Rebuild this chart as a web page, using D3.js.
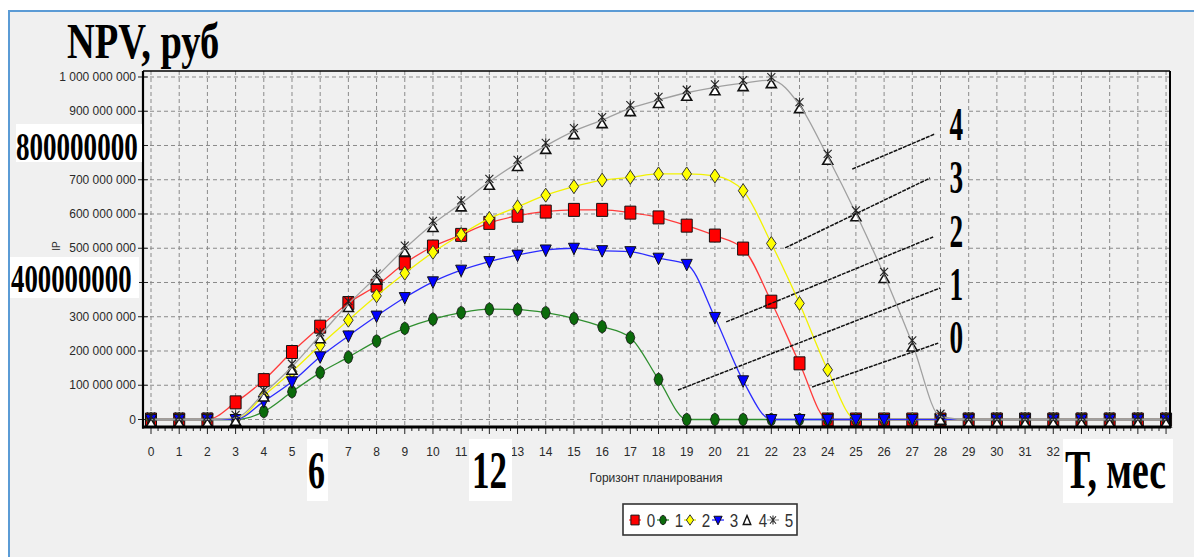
<!DOCTYPE html>
<html><head><meta charset="utf-8">
<script src="https://cdn.jsdelivr.net/npm/d3@7"></script>
<style>html,body{margin:0;padding:0;background:#fff;overflow:hidden}svg{display:block}</style>
</head><body>
<svg id="c" width="1194" height="557"></svg>
<script>
// ---------- DATA ----------
const months = [0,1,2,3,4,5,6,7,8,9,10,11,12,13,14,15,16,17,18,19,20,21,22,23,24,25,26,27,28,29,30,31,32,33,34,35,36];
// tick labels that remain visible (6, 12, 33-36 are pasted over in the reference)
const xTickLabels = [0,1,2,3,4,5,7,8,9,10,11,13,14,15,16,17,18,19,20,21,22,23,24,25,26,27,28,29,30,31,32];
const yTicks = [0,100000000,200000000,300000000,400000000,500000000,600000000,700000000,800000000,900000000,1000000000];
const yTickLabels = [0,100000000,200000000,300000000,500000000,600000000,700000000,900000000,1000000000];
const seriesNames = ["0","1","2","3","4","5"];
// NPV, million roubles
const npv0 = [0,0,0,50,115,197,271,340,391,456,505,539,574,595,607,612,612,604,590,566,537,499,344,164,0,0,0,0,0,0,0,0,0,0,0,0,0];
const npv1 = [0,0,0,0,23,81,137,182,229,266,293,312,322,321,312,295,271,239,117,0,0,0,0,0,0,0,0,0,0,0,0,0,0,0,0,0,0];
const npv2 = [0,0,0,0,70,140,217,290,361,427,488,540,587,621,655,680,699,707,717,717,711,668,514,339,145,0,0,0,0,0,0,0,0,0,0,0,0];
const npv3 = [0,0,0,0,53,110,183,244,302,356,402,436,461,480,495,500,493,490,471,453,298,113,0,0,0,0,0,0,0,0,0,0,0,0,0,0,0];
const npv4 = [0,0,0,5,76,154,246,337,417,499,571,631,694,749,799,842,874,909,933,954,970,982,991,918,767,602,422,222,8,0,0,0,0,0,0,0,0];
const npv5 = [0,0,0,5,76,154,246,337,417,499,571,631,694,749,799,842,874,909,933,954,970,982,991,918,767,602,422,222,8,0,0,0,0,0,0,0,0];
const curveLabels = ["4","3","2","1","0"];
const axisTitleX = "Горизонт планирования";
const chartTitle = "NPV, руб";
const unitT = "T, мес";

(function () {
const svg = d3.select("#c");
const W = 1194, H = 557;
const pL = 143, pR = 1170, pT = 71, pB = 427;
const x = d3.scaleLinear().domain([-0.284, 36.14]).range([pL, pR]);
const y = d3.scaleLinear().domain([-21.9e6, 1017.5e6]).range([pB, pT]);
const M = 1e6;

svg.append("rect").attr("width", W).attr("height", H).attr("fill", "#fff");
svg.append("rect").attr("x", 9).attr("y", 11).attr("width", W + 20).attr("height", H + 20)
  .attr("fill", "#f0f0f0").attr("stroke", "#5b9bd5").attr("stroke-width", 2);

const sans = "'Liberation Sans', Arial, sans-serif";
const serif = "'Liberation Serif', 'Times New Roman', serif";

// grid
const grid = svg.append("g").attr("stroke", "#8a8a8a").attr("stroke-width", 1).attr("stroke-dasharray", "4,3");
grid.selectAll("line.v").data(months).join("line").attr("class", "v")
  .attr("x1", d => x(d)).attr("x2", d => x(d)).attr("y1", pT).attr("y2", pB);
grid.selectAll("line.h").data(yTicks).join("line").attr("class", "h")
  .attr("x1", pL).attr("x2", pR).attr("y1", d => y(d)).attr("y2", d => y(d));

// y axis
const fmt = d3.formatLocale({thousands: " ", grouping: [3], decimal: ".", currency: ["", ""]}).format(",");
const yAxis = svg.append("g");
yAxis.selectAll("line").data(yTicks).join("line")
  .attr("x1", pL - 5).attr("x2", pL + 5).attr("y1", d => y(d)).attr("y2", d => y(d))
  .attr("stroke", "#222").attr("stroke-width", 1);
yAxis.selectAll("text").data(yTickLabels).join("text")
  .attr("x", pL - 7).attr("y", d => y(d)).attr("dy", "0.35em")
  .attr("text-anchor", "end").attr("font-family", sans).attr("font-size", 12).attr("fill", "#2a2a2a")
  .text(d => fmt(d));

// x axis
const minor = d3.range(0, 36.01, 0.25);
svg.append("g").attr("stroke", "#222").selectAll("line").data(minor).join("line")
  .attr("x1", d => x(d)).attr("x2", d => x(d)).attr("y1", pB)
  .attr("y2", d => Number.isInteger(d) ? pB + 7 : pB + 4).attr("stroke-width", 1);
svg.append("g").selectAll("text").data(xTickLabels).join("text")
  .attr("x", d => x(d)).attr("y", 452).attr("dy", "0.35em").attr("text-anchor", "middle")
  .attr("font-family", sans).attr("font-size", 12).attr("fill", "#2a2a2a")
  .text(d => String(d));
svg.append("text").attr("x", 656).attr("y", 478).attr("dy", "0.35em").attr("text-anchor", "middle")
  .attr("font-family", sans).attr("font-size", 12).attr("fill", "#2a2a2a").text(axisTitleX);
svg.append("text").attr("transform", "translate(60,246) rotate(-90)").attr("text-anchor", "middle")
  .attr("font-family", sans).attr("font-size", 10).attr("fill", "#333").text("IP");

// ---------- SERIES ----------
const seriesData = [npv0, npv1, npv2, npv3, npv4, npv5];
const lineColors = ["#ff3b3b", "#2f8f2f", "#f2f200", "#2b2bff", null, "#a0a0a0"];
const symbols = [
  {path: "M-5.5,-6.5H5.5V6.5H-5.5Z", fill: "#ff0000", stroke: "#111", sw: 1},
  {path: "M0,-6.5L3,-4.5L4.5,0L3,4.5L0,6.5L-3,4.5L-4.5,0L-3,-4.5Z", fill: "#0b6b0b", stroke: "#111", sw: 0.8},
  {path: "M0,-7L4.8,0L0,7L-4.8,0Z", fill: "#ffff00", stroke: "#333", sw: 1},
  {path: "M-5.5,-5L5.5,-5L0,6.5Z", fill: "#0000ff", stroke: "#111", sw: 1},
  {path: "M0,-1L5,7.5L-5,7.5Z", fill: "#fff", stroke: "#111", sw: 1.6},
  {path: "M-4,-7L4,1M4,-7L-4,1M0,-7.5V1.5", fill: "none", stroke: "#222", sw: 1.1}
];
const line = d3.line().x((d, i) => x(months[i])).y(d => y(d * M)).curve(d3.curveMonotoneX);
seriesData.forEach((data, s) => {
  const g = svg.append("g");
  if (lineColors[s]) {
    g.append("path").attr("d", line(data)).attr("fill", "none")
      .attr("stroke", lineColors[s]).attr("stroke-width", 1.3);
  }
  g.selectAll("path.m").data(data).join("path").attr("class", "m")
    .attr("transform", (d, i) => `translate(${x(months[i])},${y(d * M)})`)
    .attr("d", symbols[s].path).attr("fill", symbols[s].fill)
    .attr("stroke", symbols[s].stroke).attr("stroke-width", symbols[s].sw);
});

// frame
const fr = svg.append("g").attr("stroke", "#000");
fr.append("line").attr("x1", pL).attr("x2", pR).attr("y1", pT).attr("y2", pT).attr("stroke-width", 1.6);
fr.append("line").attr("x1", pR).attr("x2", pR).attr("y1", pT).attr("y2", pB).attr("stroke-width", 2);
fr.append("line").attr("x1", pL).attr("x2", pL).attr("y1", pT).attr("y2", pB + 1.5).attr("stroke-width", 2.2);
fr.append("line").attr("x1", pL - 1).attr("x2", pR + 1).attr("y1", pB).attr("y2", pB).attr("stroke-width", 3);

// ---------- ANNOTATIONS ----------
const leaders = [
  [[24.87, 731], [27.81, 834]],
  [[22.49, 501], [27.63, 705]],
  [[20.40, 285], [27.74, 533]],
  [[18.69, 86], [27.99, 384]],
  [[23.45, 95], [27.92, 223]]
];
const labelVals = [816, 661, 504, 349, 194];
leaders.forEach(l => {
  svg.append("line").attr("x1", x(l[0][0])).attr("y1", y(l[0][1] * M))
    .attr("x2", x(l[1][0])).attr("y2", y(l[1][1] * M))
    .attr("stroke", "#111").attr("stroke-width", 1.5).attr("stroke-dasharray", "4,1");
});
curveLabels.forEach((t, i) => {
  const cx = x(28.56), by = y(labelVals[i] * M);
  svg.append("rect").attr("x", cx - 10).attr("y", by - 34).attr("width", 20).attr("height", 38).attr("fill", "#f0f0f0");
  svg.append("text").attr("transform", `translate(${cx},${by}) scale(0.58,1)`).attr("text-anchor", "middle")
    .attr("font-family", serif).attr("font-weight", "bold").attr("font-size", 47).attr("fill", "#000").text(t);
});

function bigText(txt, bx, by, bw, bh, tx, tb, sx, fs, box) {
  if (box) svg.append("rect").attr("x", bx).attr("y", by).attr("width", bw).attr("height", bh).attr("fill", "#fff");
  svg.append("text").attr("transform", `translate(${tx},${tb}) scale(${sx},1)`)
    .attr("font-family", serif).attr("font-weight", "bold").attr("font-size", fs).attr("fill", "#000").text(txt);
}
bigText(chartTitle, 0, 0, 0, 0, 67, 58, 0.77, 50, false);
bigText("800000000", 16, 124, 126, 38, 16, 160, 0.66, 41, true);
bigText("400000000", 10, 257, 129, 41, 11, 292, 0.67, 40, true);
bigText("6", 307, 439, 21, 62, 308, 488, 0.64, 53, true);
bigText("12", 469, 439, 43, 62, 472, 488, 0.66, 53, true);
bigText(unitT, 1063, 439, 110, 64, 1065, 488, 0.7, 54, true);

// ---------- LEGEND ----------
const lg = svg.append("g");
lg.append("rect").attr("x", 623).attr("y", 504).attr("width", 174).attr("height", 31)
  .attr("fill", "#fff").attr("stroke", "#333").attr("stroke-width", 1.6);
const legX = [635, 663, 690, 718, 747, 773];
seriesNames.forEach((n, s) => {
  const cx = legX[s], cy = 520;
  if (lineColors[s]) lg.append("line").attr("x1", cx - 6).attr("x2", cx + 6).attr("y1", cy).attr("y2", cy)
    .attr("stroke", lineColors[s] === "#f2f200" ? "#e0e000" : lineColors[s]).attr("stroke-width", 1.3);
  lg.append("path").attr("transform", `translate(${cx},${cy}) scale(0.75)`)
    .attr("d", s === 4 ? "M0,-6L5,6L-5,6Z" : (s === 5 ? "M-4,-5L4,5M4,-5L-4,5M0,-6V6" : symbols[s].path))
    .attr("fill", symbols[s].fill).attr("stroke", symbols[s].stroke).attr("stroke-width", symbols[s].sw + 0.3);
  lg.append("text").attr("transform", `translate(${cx + 16},${cy}) scale(0.8,1)`).attr("dy", "0.36em")
    .attr("text-anchor", "middle").attr("font-family", sans).attr("font-size", 19).attr("fill", "#333").text(n);
});
})();
</script>
</body></html>
